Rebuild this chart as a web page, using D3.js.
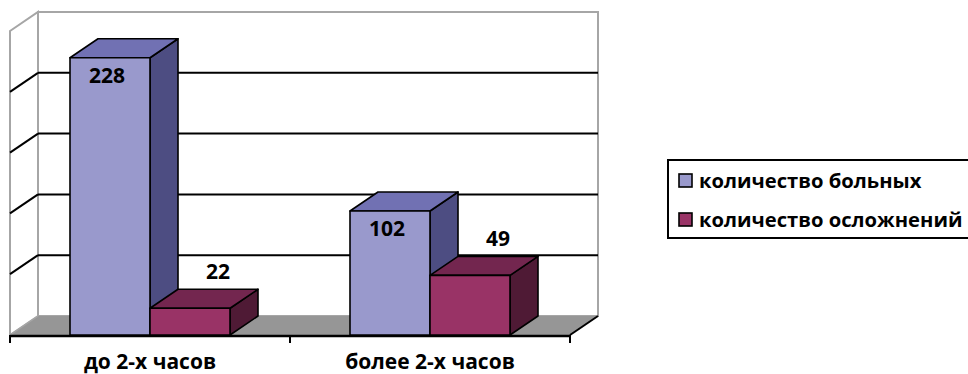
<!DOCTYPE html>
<html><head><meta charset="utf-8">
<script src="https://cdn.jsdelivr.net/npm/d3@7"></script>
<style>
html,body{margin:0;padding:0;background:#fff;}
svg text{font-family:"Open Sans","DejaVu Sans",sans-serif;font-weight:bold;fill:#000;}
</style></head>
<body>
<svg id="chart" width="968" height="374"></svg>
<script>
const categories = ["до 2-х часов", "более 2-х часов"];
const seriesNames = ["количество больных", "количество осложнений"];
const patients = [228, 102];
const complications = [22, 49];
const gridTicks = [50, 100, 150, 200];

const series = [
  {name: seriesNames[0], values: patients, front: "#9999cc", top: "#7171b3", side: "#4d4d82"},
  {name: seriesNames[1], values: complications, front: "#993366", top: "#73264f", side: "#4f1a35"}
];

const svg = d3.select("#chart");
const DX = 28, DY = 19;               // depth offset (back = front + (DX,-DY))
const backLeft = 38, backRight = 598;
const y = d3.scaleLinear().domain([0, 250]).range([316, 12]);   // on the back wall
const floorY = y(0) + DY;             // front floor line
const x0 = d3.scaleBand().domain(categories).range([backLeft - DX, backRight - DX]).paddingInner(3/7).paddingOuter(3/14);
const x1 = d3.scaleBand().domain(seriesNames).range([0, x0.bandwidth()]);

// walls
const gray = "#a6a6a6";
svg.append("polygon")
  .attr("points", [[backLeft - DX, y(250) + DY], [backLeft, y(250)], [backLeft, y(0)], [backLeft - DX, floorY]].join(" "))
  .attr("fill", "#fff").attr("stroke", gray).attr("stroke-width", 2);
svg.append("rect").attr("x", backLeft).attr("y", y(250)).attr("width", backRight - backLeft).attr("height", y(0) - y(250))
  .attr("fill", "#fff").attr("stroke", gray).attr("stroke-width", 2);

// gridlines
gridTicks.forEach(t => {
  svg.append("line").attr("x1", backLeft).attr("x2", backRight).attr("y1", y(t)).attr("y2", y(t))
    .attr("stroke", "#000").attr("stroke-width", 2);
  svg.append("line").attr("x1", backLeft - DX).attr("x2", backLeft).attr("y1", y(t) + DY).attr("y2", y(t))
    .attr("stroke", "#000").attr("stroke-width", 2);
});

// floor
svg.append("polygon")
  .attr("points", [[backLeft, y(0)], [backRight, y(0)], [backRight - DX, floorY], [backLeft - DX, floorY]].join(" "))
  .attr("fill", "#969696").attr("stroke", "none");
svg.append("line").attr("x1", backLeft).attr("y1", y(0)).attr("x2", backLeft - DX).attr("y2", floorY)
  .attr("stroke", gray).attr("stroke-width", 1.5);
svg.append("line").attr("x1", backRight).attr("y1", y(0)).attr("x2", backRight - DX).attr("y2", floorY)
  .attr("stroke", "#000").attr("stroke-width", 2);

// axis line + ticks
const axisX0 = backLeft - DX, axisX1 = backRight - DX;
svg.append("line").attr("x1", axisX0).attr("x2", axisX1).attr("y1", floorY + 1).attr("y2", floorY + 1)
  .attr("stroke", "#000").attr("stroke-width", 2.5);
const tickXs = [axisX0].concat(categories.map(c => x0(c) + x0.bandwidth() / 2 + x0.step() / 2));
tickXs.forEach(tx => {
  svg.append("line").attr("x1", tx).attr("x2", tx).attr("y1", floorY).attr("y2", floorY + 8)
    .attr("stroke", "#000").attr("stroke-width", 2);
});

// bars
categories.forEach((c, ci) => {
  series.forEach(s => {
    const v = s.values[ci];
    const xa = x0(c) + x1(s.name), xb = xa + x1.bandwidth();
    const yf = y(v) + DY;
    const g = svg.append("g").attr("stroke", "#000").attr("stroke-width", 1.6).attr("stroke-linejoin", "round");
    g.append("polygon").attr("points", [[xb, yf], [xb + DX, yf - DY], [xb + DX, y(0)], [xb, floorY]].join(" ")).attr("fill", s.side);
    g.append("polygon").attr("points", [[xa, yf], [xb, yf], [xb + DX, yf - DY], [xa + DX, yf - DY]].join(" ")).attr("fill", s.top);
    g.append("rect").attr("x", xa).attr("y", yf).attr("width", xb - xa).attr("height", floorY - yf).attr("fill", s.front);
  });
});

// value labels
const FS = 21;
categories.forEach((c, ci) => {
  series.forEach((s, si) => {
    const v = s.values[ci];
    const xa = x0(c) + x1(s.name), cx = xa + x1.bandwidth() / 2;
    const yf = y(v) + DY;
    if (si === 0) {
      svg.append("text").attr("x", cx - 3).attr("y", yf + 25).attr("text-anchor", "middle").attr("font-size", FS).text(v);
    } else {
      svg.append("text").attr("x", cx + DX).attr("y", yf - DY - 10).attr("text-anchor", "middle").attr("font-size", FS).text(v);
    }
  });
});

// category labels
categories.forEach(c => {
  svg.append("text").attr("x", x0(c) + x0.bandwidth() / 2).attr("y", 369).attr("text-anchor", "middle")
    .attr("font-size", FS).text(c);
});

// legend
const lg = svg.append("g");
lg.append("rect").attr("x", 668).attr("y", 160).attr("width", 320).attr("height", 78)
  .attr("fill", "#fff").attr("stroke", "#000").attr("stroke-width", 2);
series.forEach((s, i) => {
  const yy = 174 + i * 39;
  lg.append("rect").attr("x", 679).attr("y", yy).attr("width", 13).attr("height", 13)
    .attr("fill", s.front).attr("stroke", "#000").attr("stroke-width", 1.6);
  lg.append("text").attr("x", 699).attr("y", yy + 14).attr("font-size", 20.2).text(s.name);
});
</script>
</body></html>
